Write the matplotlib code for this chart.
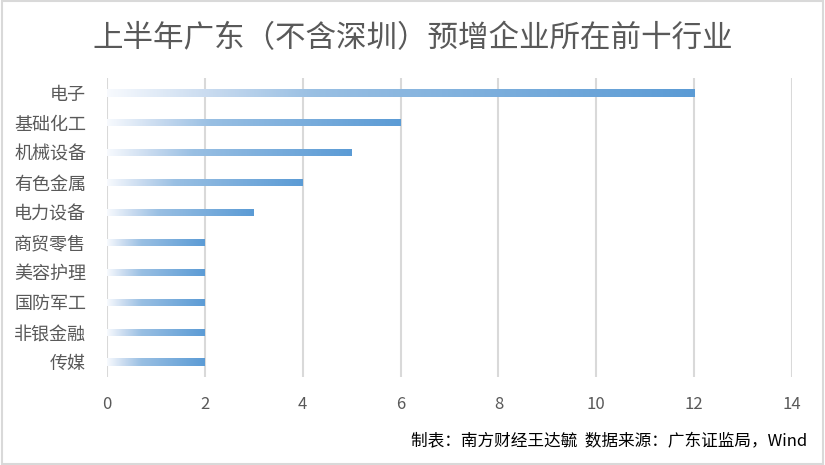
import matplotlib
matplotlib.use("Agg")
import matplotlib.pyplot as plt
import numpy as np
from matplotlib.colors import LinearSegmentedColormap
from matplotlib.patches import Rectangle

plt.rcParams['font.family'] = ['Noto Sans CJK SC', 'DejaVu Sans']

title = "上半年广东（不含深圳）预增企业所在前十行业"
categories = ["电子", "基础化工", "机械设备", "有色金属", "电力设备",
              "商贸零售", "美容护理", "国防军工", "非银金融", "传媒"]
values = [12, 6, 5, 4, 3, 2, 2, 2, 2, 2]
xticks = [0, 2, 4, 6, 8, 10, 12, 14]
footer = "制表：南方财经王达毓  数据来源：广东证监局，Wind"

text_color = "#595959"
grid_color = "#D9D9D9"

cmap = LinearSegmentedColormap.from_list(
    "grad",
    [(0.0, (0.97, 0.98, 0.995)),
     (0.17, (0.79, 0.86, 0.94)),
     (0.35, (0.60, 0.75, 0.89)),
     (1.0, (0.357, 0.608, 0.835))])

fig = plt.figure(figsize=(8.25, 4.65), dpi=100)
ax = fig.add_axes([0.1297, 0.1892, 0.8303, 0.6431])

n = len(categories)
ypos = np.arange(n)
bar_h = 0.24
grad = np.linspace(0, 1, 256).reshape(1, -1)
for y, v in zip(ypos, values):
    rect = Rectangle((0, y - bar_h / 2), v, bar_h, facecolor='none', edgecolor='none')
    ax.add_patch(rect)
    im = ax.imshow(grad, cmap=cmap, aspect='auto',
                   extent=[0, v, y + bar_h / 2, y - bar_h / 2],
                   interpolation='bilinear', zorder=3)
    im.set_clip_path(rect)

ax.set_xlim(0, 14)
ax.set_ylim(n - 0.5, -0.5)
ax.set_xticks(xticks)
ax.set_xticklabels([str(t) for t in xticks])
ax.set_yticks(ypos)
ax.set_yticklabels(categories)
ax.tick_params(axis='both', length=0, labelcolor=text_color)
ax.tick_params(axis='x', pad=14, labelsize=12)
ax.tick_params(axis='y', pad=15, labelsize=13)
ax.grid(axis='x', color=grid_color, linewidth=1.5, zorder=0)
ax.set_axisbelow(True)
for s in ax.spines.values():
    s.set_visible(False)

fig.text(0.5, 0.918, title, ha='center', va='center', fontsize=22, color=text_color)
fig.text(0.979, 0.049, footer, ha='right', va='center', fontsize=12, color='black')

border = Rectangle((0.002, 0.003), 0.996, 0.994, transform=fig.transFigure,
                   fill=False, edgecolor=grid_color, linewidth=1.5)
fig.patches.append(border)

fig.savefig("out.png", dpi=100)
